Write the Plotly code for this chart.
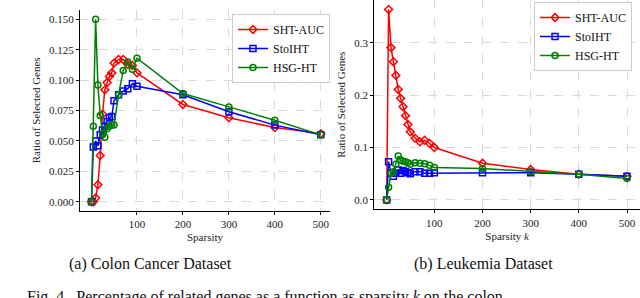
import plotly.graph_objects as go

# Sparsity levels
sparsity = [1, 5, 10, 15, 20, 25, 30, 35, 40, 45, 50, 60, 70, 80, 90, 100, 200, 300, 400, 500]

# (a) Colon Cancer Dataset
colon_sht_auc = [0.000, 0.000, 0.003, 0.014, 0.038, 0.072, 0.092, 0.098, 0.103, 0.106, 0.114,
                 0.117, 0.117, 0.113, 0.112, 0.106, 0.080, 0.069, 0.061, 0.056]
colon_stoiht = [0.000, 0.045, 0.050, 0.046, 0.055, 0.059, 0.062, 0.066, 0.069, 0.070, 0.083,
                0.088, 0.091, 0.093, 0.097, 0.095, 0.088, 0.074, 0.063, 0.055]
colon_hsg_ht = [0.000, 0.062, 0.150, 0.096, 0.071, 0.056, 0.053, 0.060, 0.062, 0.063, 0.063,
                0.088, 0.108, 0.115, 0.109, 0.118, 0.089, 0.078, 0.067, 0.055]

# (b) Leukemia Dataset
leuk_sht_auc = [0.000, 0.364, 0.291, 0.264, 0.238, 0.211, 0.194, 0.178, 0.161, 0.144, 0.130,
                0.118, 0.111, 0.114, 0.108, 0.100, 0.070, 0.058, 0.049, 0.045]
leuk_stoiht = [0.000, 0.073, 0.051, 0.045, 0.051, 0.057, 0.051, 0.056, 0.054, 0.052, 0.050,
               0.054, 0.054, 0.051, 0.051, 0.052, 0.052, 0.052, 0.049, 0.045]
leuk_hsg_ht = [0.000, 0.024, 0.051, 0.054, 0.068, 0.084, 0.076, 0.074, 0.073, 0.071, 0.068,
               0.071, 0.070, 0.069, 0.066, 0.062, 0.060, 0.054, 0.049, 0.041]

series_names = ["SHT-AUC", "StoIHT", "HSG-HT"]
colors = ["#ff0000", "#0000ff", "#008000"]
symbols = ["diamond-open", "square-open", "circle-open"]

colon_x_ticks = [100, 200, 300, 400, 500]
colon_y_ticks = [0.000, 0.025, 0.050, 0.075, 0.100, 0.125, 0.150]
leuk_x_ticks = [100, 200, 300, 400, 500]
leuk_y_ticks = [0.0, 0.1, 0.2, 0.3]

FONT = "Liberation Serif, Times New Roman, serif"

fig = go.Figure()

for name, ys, c, s in zip(series_names, [colon_sht_auc, colon_stoiht, colon_hsg_ht], colors, symbols):
    fig.add_trace(go.Scatter(x=sparsity, y=ys, name=name, mode="lines+markers",
                             line=dict(color=c, width=1.5),
                             marker=dict(symbol=s, size=6, color=c, line=dict(width=1.5, color=c)),
                             xaxis="x", yaxis="y", legend="legend"))

for name, ys, c, s in zip(series_names, [leuk_sht_auc, leuk_stoiht, leuk_hsg_ht], colors, symbols):
    fig.add_trace(go.Scatter(x=sparsity, y=ys, name=name, mode="lines+markers",
                             line=dict(color=c, width=1.5),
                             marker=dict(symbol=s, size=6, color=c, line=dict(width=1.5, color=c)),
                             xaxis="x2", yaxis="y2", legend="legend2"))

# Figure fills the whole 640x298 window (page margin removed below).
W, H = 640, 298

def px_x(p):
    return p / W

def px_y(p):
    return (H - p) / H

axis_common = dict(showline=True, linecolor="black", linewidth=1.2, mirror=False,
                   zeroline=False, showgrid=True, gridcolor="#d9d9d9", griddash="dash",
                   gridwidth=0.8, ticks="outside", ticklen=3, tickcolor="black",
                   tickfont=dict(family=FONT, size=11, color="#222"))

legend_common = dict(bgcolor="rgba(255,255,255,0.9)", bordercolor="#cccccc", borderwidth=1,
                     font=dict(family=FONT, size=12, color="#111"),
                     xanchor="right", yanchor="top", tracegroupgap=0,
                     itemwidth=30)

fig.update_layout(
    width=W, height=H,
    margin=dict(l=0, r=0, t=0, b=0, autoexpand=False),
    paper_bgcolor="white", plot_bgcolor="white",
    font=dict(family=FONT, color="#222"),
    xaxis=dict(domain=[px_x(80), px_x(330)], range=[-24, 520], tickvals=colon_x_ticks,
               anchor="y", title=dict(text="Sparsity", font=dict(family=FONT, size=11), standoff=4),
               **axis_common),
    yaxis=dict(domain=[px_y(210.7), px_y(10)], range=[-0.0074, 0.1577], tickvals=colon_y_ticks,
               tickformat=".3f", anchor="x",
               title=dict(text="Ratio of Selected Genes", font=dict(family=FONT, size=11), standoff=6),
               **axis_common),
    xaxis2=dict(domain=[px_x(374.3), 1.0], range=[-24.7, 527], tickvals=leuk_x_ticks,
                anchor="y2",
                title=dict(text="Sparsity <i>k</i>", font=dict(family=FONT, size=11), standoff=4),
                **axis_common),
    yaxis2=dict(domain=[px_y(209.3), 1.0], range=[-0.018, 0.382], tickvals=leuk_y_ticks,
                tickformat=".1f", anchor="x2",
                title=dict(text="Ratio of Selected Genes", font=dict(family=FONT, size=11), standoff=6),
                **axis_common),
    legend=dict(x=px_x(330), y=px_y(14), **legend_common),
    legend2=dict(x=px_x(632), y=px_y(2), **legend_common),
    showlegend=True,
)

fig.add_annotation(text="(a) Colon Cancer Dataset", x=px_x(150), y=px_y(264), xref="paper", yref="paper",
                   xanchor="center", yanchor="middle",
                   showarrow=False, font=dict(family=FONT, size=16, color="#111"))
fig.add_annotation(text="(b) Leukemia Dataset", x=px_x(483), y=px_y(264), xref="paper", yref="paper",
                   xanchor="center", yanchor="middle",
                   showarrow=False, font=dict(family=FONT, size=16, color="#111"))
fig.add_annotation(text="Fig. 4.  Percentage of related genes as a function as sparsity <i>k</i> on the colon",
                   x=px_x(25), y=px_y(297), xref="paper", yref="paper", xanchor="left", yanchor="middle",
                   showarrow=False, font=dict(family=FONT, size=16, color="#111"))

fig.write_html("out.html",
               config={"displayModeBar": False},
               post_script="document.body.style.margin='0';document.body.style.overflow='hidden';"
                           "document.documentElement.style.overflow='hidden';")
